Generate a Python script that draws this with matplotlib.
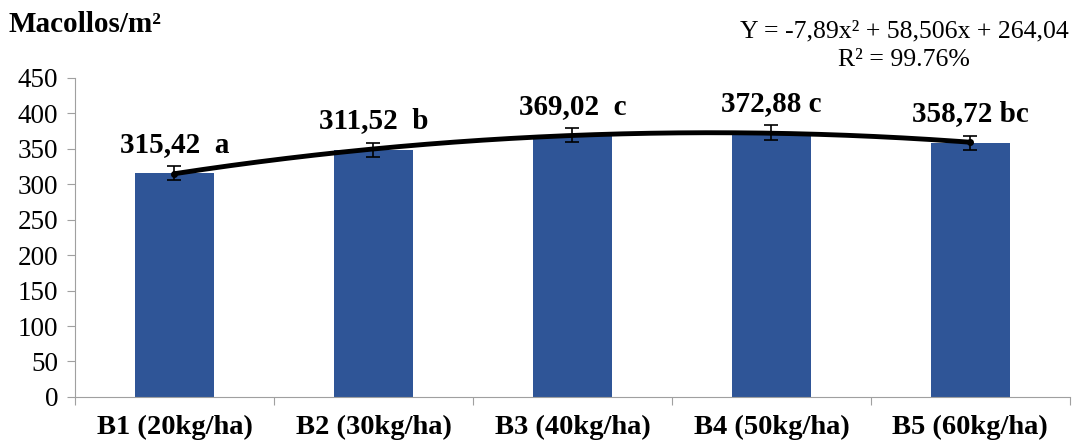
import matplotlib
matplotlib.use('Agg')
import matplotlib.pyplot as plt
import numpy as np

categorias = ['B1 (20kg/ha)', 'B2 (30kg/ha)', 'B3 (40kg/ha)', 'B4 (50kg/ha)', 'B5 (60kg/ha)']
macollos = [315.42, 348.5, 369.02, 372.88, 358.72]
errores = [10, 10, 10, 10, 10]
etiquetas = ['315,42  a', '311,52  b', '369,02  c', '372,88 c', '358,72 bc']
ecuacion = 'Y = -7,89x² + 58,506x + 264,04'
r2 = 'R² = 99.76%'

plt.rcParams['font.family'] = ['Liberation Serif', 'DejaVu Serif']

fig = plt.figure(figsize=(10.79, 4.45), dpi=100)
ax = fig.add_axes([0.0695, 0.108, 0.922, 0.717])

x = np.arange(1, len(categorias) + 1)
ax.bar(x, macollos, width=0.4, color='#2F5597', zorder=2)
ax.errorbar(x, macollos, yerr=errores, fmt='none', ecolor='black',
            elinewidth=1.2, capsize=5, capthick=1.2, zorder=4)

# linea de tendencia polinomica (orden 2)
coef = np.polyfit(x, macollos, 2)
xs = np.linspace(1, 5, 200)
ax.plot(xs, np.polyval(coef, xs), color='black', lw=3.5, zorder=3,
        solid_capstyle='round')
ax.plot(x[[0, -1]], np.polyval(coef, x[[0, -1]]), 'o', color='black', ms=4, zorder=5)

for xi, v, t in zip(x, macollos, etiquetas):
    ax.text(xi, v + 41, t, ha='center', va='center', fontsize=21, fontweight='bold')

ax.set_xlim(0.5, 5.5)
ax.set_ylim(0, 450)
ax.set_yticks(np.arange(0, 451, 50))
ax.set_xticks(np.arange(0.5, 5.6, 1), minor=False)
ax.set_xticklabels([])
ax.set_xticks(x, minor=True)
ax.set_xticklabels(categorias, minor=True, fontsize=20.5, fontweight='bold')
ax.tick_params(axis='x', which='minor', length=0, pad=13)
ax.tick_params(axis='x', which='major', length=6, color='#A0A0A0', direction='out')
ax.tick_params(axis='y', labelsize=19.5, length=6, color='#A0A0A0', pad=6)

for s in ['top', 'right']:
    ax.spines[s].set_visible(False)
for s in ['left', 'bottom']:
    ax.spines[s].set_color('#A0A0A0')

fig.text(0.008, 0.945, 'Macollos/m²', fontsize=21, fontweight='bold', ha='left', va='center')
fig.text(0.838, 0.93, ecuacion, fontsize=18.5, ha='center', va='center')
fig.text(0.838, 0.866, r2, fontsize=18.5, ha='center', va='center')

fig.savefig('out.png', dpi=100)
